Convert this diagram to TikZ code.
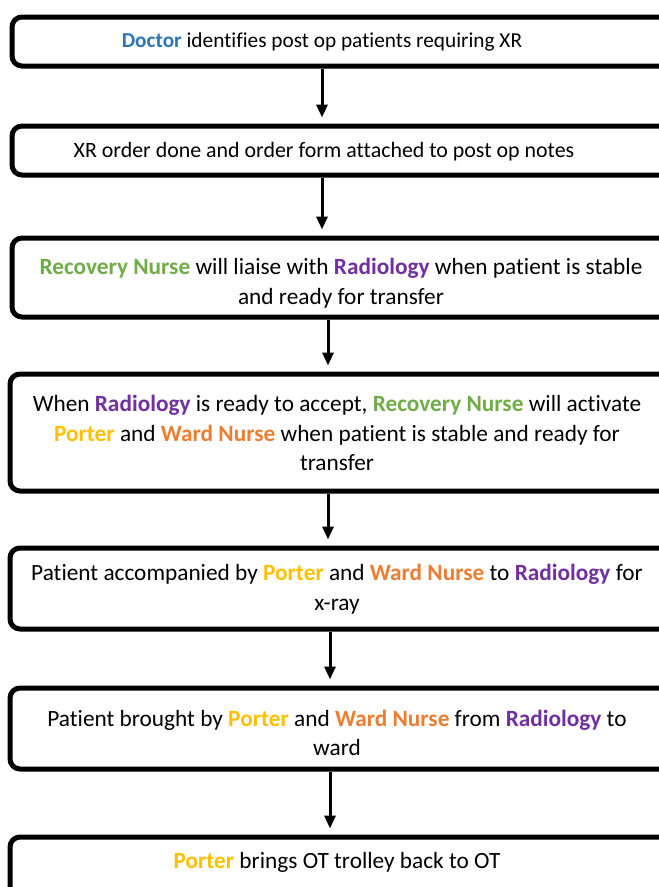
\documentclass[tikz,border=0pt]{standalone}
\usepackage{fontspec}
\setmainfont{Carlito}[Ligatures=NoCommon]
\usetikzlibrary{arrows.meta}
\definecolor{cdoc}{HTML}{2E75B6}
\definecolor{crec}{HTML}{70AD47}
\definecolor{crad}{HTML}{7030A0}
\definecolor{cpor}{HTML}{FFC000}
\definecolor{cward}{HTML}{ED7D31}
\newcommand{\Doc}{\textbf{\color{cdoc}Doctor}}
\newcommand{\Rec}{\textbf{\color{crec}Recovery Nurse}}
\newcommand{\Rad}{\textbf{\color{crad}Radiology}}
\newcommand{\Por}{\textbf{\color{cpor}Porter}}
\newcommand{\Ward}{\textbf{\color{cward}Ward Nurse}}
\tikzset{
  flowbox/.style={draw=black, line width=5pt, rounded corners=10pt, fill=white, inner sep=0pt},
  flowtext/.style={align=center, font=\fontsize{23.3}{29.5}\selectfont, inner sep=0pt},
  flowarrow/.style={line width=3pt, -{Triangle[length=13pt,width=11pt]}, shorten >=6pt}
}
\begin{document}
\begin{tikzpicture}[x=1pt,y=-1pt]
\useasboundingbox (0,0) rectangle (659,887);
\clip (0,0) rectangle (659,887);
\fill[white] (0,0) rectangle (659,887);
% boxes
\node[flowbox, minimum width=668pt, minimum height=49pt] (b1) at (346,41.5) {};
\node[flowbox, minimum width=668pt, minimum height=49pt] (b2) at (346,150.5) {};
\node[flowbox, minimum width=668pt, minimum height=79pt] (b3) at (346,277.5) {};
\node[flowbox, minimum width=670pt, minimum height=117pt] (b4) at (345,432.5) {};
\node[flowbox, minimum width=670pt, minimum height=81pt] (b5) at (345,588.5) {};
\node[flowbox, minimum width=670pt, minimum height=81pt] (b6) at (345,728.5) {};
\node[flowbox, minimum width=670pt, minimum height=83pt] (b7) at (345,878.5) {};
% texts
\node[flowtext, font=\fontsize{21.3}{29.5}\selectfont] (t1) at (322,42) {\Doc{} identifies post op patients requiring XR};
\node[flowtext, font=\fontsize{21.9}{29.5}\selectfont] (t2) at (324,152) {XR order done and order form attached to post op notes};
\node[flowtext] (t3) at (341,283) {\Rec{} will liaise with \Rad{} when patient is stable\\and ready for transfer};
\node[flowtext] (t4) at (337,433) {When \Rad{} is ready to accept, \Rec{} will activate\\\Por{} and \Ward{} when patient is stable and ready for\\transfer};
\node[flowtext] (t5) at (337,589) {Patient accompanied by \Por{} and \Ward{} to \Rad{} for\\x-ray};
\node[flowtext] (t6) at (337,733) {Patient brought by \Por{} and \Ward{} from \Rad{} to\\ward};
\node[flowtext] (t7) at (337,862) {\Por{} brings OT trolley back to OT};
% arrow columns
\coordinate (c1) at (322,0);
\coordinate (c2) at (322,0);
\coordinate (c3) at (328,0);
\coordinate (c4) at (328,0);
\coordinate (c5) at (330,0);
\coordinate (c6) at (330,0);
\draw[flowarrow] (b1.south -| c1) -- (b2.north -| c1);
\draw[flowarrow] (b2.south -| c2) -- (b3.north -| c2);
\draw[flowarrow] (b3.south -| c3) -- (b4.north -| c3);
\draw[flowarrow] (b4.south -| c4) -- (b5.north -| c4);
\draw[flowarrow] (b5.south -| c5) -- (b6.north -| c5);
\draw[flowarrow] (b6.south -| c6) -- (b7.north -| c6);
\end{tikzpicture}
\end{document}
